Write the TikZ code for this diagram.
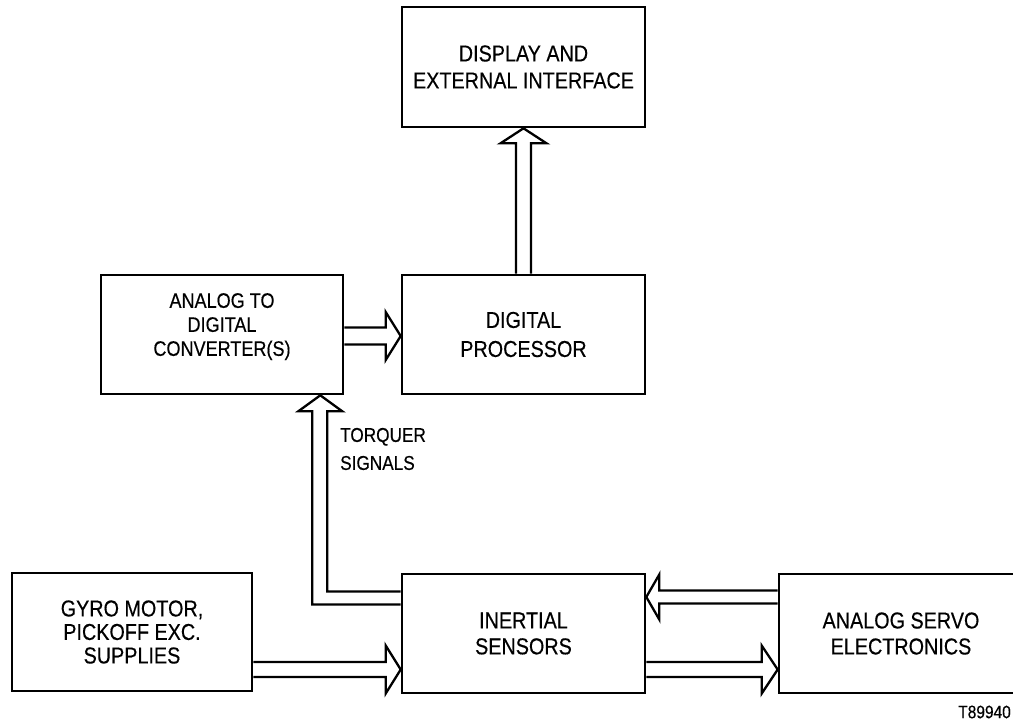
\documentclass[tikz,border=0pt]{standalone}
\usepackage{fontspec}
\setmainfont{Liberation Sans}[FakeStretch=0.86,FakeBold=0.4]
\usetikzlibrary{calc}
\begin{document}
\begin{tikzpicture}[x=1pt,y=-1pt,
  blk/.style={draw=black, line width=2.6pt, inner sep=0pt, align=center,
    font=\fontsize{23}{25}\selectfont},
  barrow/.style={draw=black, line width=2.3pt, line join=miter},
  lbl/.style={font=\fontsize{20}{28}\selectfont, align=left, inner sep=0pt}]
\useasboundingbox (0,0) rectangle (1013,721);
\clip (0,0) rectangle (1013,721);

% boxes
\node[blk, minimum width=243pt, minimum height=120pt,
  font=\fontsize{23}{27}\selectfont] (disp) at (523.5,67) {DISPLAY AND\\EXTERNAL INTERFACE};
\node[blk, minimum width=243pt, minimum height=119pt,
  font=\fontsize{23}{29}\selectfont] (dp) at (523.5,334.5) {DIGITAL\\PROCESSOR};
\node[blk, minimum width=242pt, minimum height=119pt,
  font=\fontsize{21}{24}\selectfont, text depth=20pt] (adc) at (222,334.5) {ANALOG TO\\DIGITAL\\CONVERTER(S)};
\node[blk, minimum width=240pt, minimum height=118pt,
  font=\fontsize{23}{23.5}\selectfont] (gyro) at (132,632) {GYRO MOTOR,\\PICKOFF EXC.\\SUPPLIES};
\node[blk, minimum width=243pt, minimum height=119pt,
  font=\fontsize{23}{26}\selectfont] (is) at (523.5,633.5) {INERTIAL\\SENSORS};
\node[blk, minimum width=244pt, minimum height=119pt,
  font=\fontsize{23}{26}\selectfont] (servo) at (901,633.5) {ANALOG SERVO\\ELECTRONICS};

% labels
\node[lbl, anchor=west] (tq) at (340,449) {TORQUER\\SIGNALS};
\node[anchor=east, inner sep=0pt, font=\fontsize{18}{20}\selectfont] (id) at (1011,712) {T89940};

% DP -> display
\draw[barrow] ($(dp.north)+(-7.5,0)$) -- ($(disp.south)+(-7.5,15)$)
  -- ($(disp.south)+(-23,15)$) -- (disp.south) -- ($(disp.south)+(23,15)$)
  -- ($(disp.south)+(7.5,15)$) -- ($(dp.north)+(7.5,0)$);

% ADC -> DP
\draw[barrow] ($(adc.east)+(0,-7)$) -- ($(dp.west)+(-15,-7)$)
  -- ($(dp.west)+(-15,-22.5)$) -- ($(dp.west)+(0,1.5)$) -- ($(dp.west)+(-15,25.5)$)
  -- ($(dp.west)+(-15,10)$) -- ($(adc.east)+(0,10)$);

% Gyro -> IS
\coordinate (gt) at ($(is.west)+(0,36)$);
\draw[barrow] ($(gyro.east |- gt)+(0,-7.5)$) -- ($(gt)+(-15,-7.5)$)
  -- ($(gt)+(-15,-24)$) -- (gt) -- ($(gt)+(-15,24)$)
  -- ($(gt)+(-15,7.5)$) -- ($(gyro.east |- gt)+(0,7.5)$);

% IS -> Servo
\coordinate (st) at ($(servo.west)+(0,36)$);
\draw[barrow] ($(is.east |- st)+(0,-7.5)$) -- ($(st)+(-16,-7.5)$)
  -- ($(st)+(-16,-24)$) -- (st) -- ($(st)+(-16,24)$)
  -- ($(st)+(-16,7.5)$) -- ($(is.east |- st)+(0,7.5)$);

% Servo -> IS
\coordinate (it) at ($(is.east)+(0,-36.5)$);
\draw[barrow] ($(servo.west |- it)+(0,-6.5)$) -- ($(it)+(13,-6.5)$)
  -- ($(it)+(13,-22.5)$) -- (it) -- ($(it)+(13,22.5)$)
  -- ($(it)+(13,6.5)$) -- ($(servo.west |- it)+(0,6.5)$);

% IS -> ADC (torquer signals)
\coordinate (tt) at ($(adc.south east)+(-24,0)$);
\draw[barrow] ($(is.west)+(0,-42)$) -| ($(tt)+(7,16)$) -- ($(tt)+(22,16)$)
  -- (tt) -- ($(tt)+(-22,16)$) -- ($(tt)+(-8,16)$) |- ($(is.west)+(0,-29)$);
\end{tikzpicture}
\end{document}
